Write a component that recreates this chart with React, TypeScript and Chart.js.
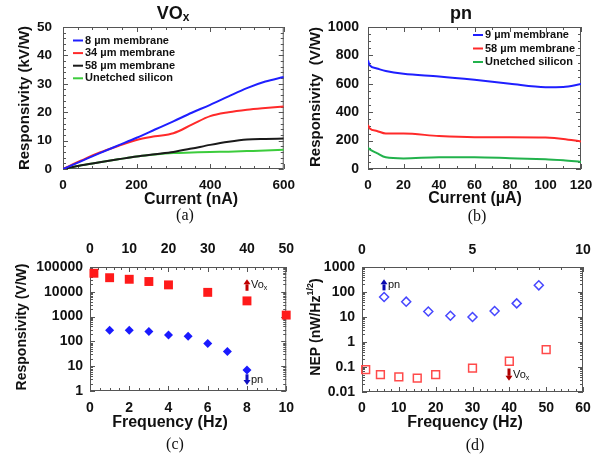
import React, { useEffect, useRef } from 'react';
import { Chart, registerables } from 'chart.js';

Chart.register(...registerables);

const SANS = '"Liberation Sans", Arial, Helvetica, sans-serif';
const SERIF = '"Liberation Serif", "Times New Roman", serif';

// ---------- (a) VOx: responsivity (kV/W) vs current (nA) ----------
const aCurrentNA = [0, 50, 100, 150, 200, 250, 300, 350, 400, 450, 500, 550, 600];
const a8um = [0, 2.8, 5.6, 8.3, 11, 13.9, 16.8, 19.8, 22.6, 25.6, 28.5, 30.8, 32.4];
const a34um = [0, 3, 5.8, 8.1, 10.2, 11.5, 12.6, 15.6, 18.6, 20, 20.9, 21.5, 22];
const a58um = [0, 1.3, 2.4, 3.4, 4.4, 5.2, 6, 7.2, 8.5, 9.6, 10.4, 10.6, 10.7];
const aUnetched = [0, 1.3, 2.4, 3.4, 4.4, 5.1, 5.6, 5.8, 6, 6.1, 6.3, 6.5, 6.8];
const aLabels = ['8 µm membrane', '34 µm membrane', '58 µm membrane', 'Unetched silicon'];

// ---------- (b) pn: responsivity (V/W) vs current (µA) ----------
const bCurrentUA = [0, 1, 5, 10, 20, 40, 60, 80, 100, 110, 120];
const b9um = [765, 730, 708, 690, 670, 652, 628, 600, 576, 578, 598];
const b58um = [310, 285, 268, 250, 250, 232, 224, 224, 221, 212, 194];
const bUnetched = [150, 138, 112, 82, 74, 83, 83, 76, 68, 62, 50];
const bLabels = ['9 µm membrane', '58 µm membrane', 'Unetched silicon'];

// ---------- (c) responsivity (V/W) vs frequency ----------
const cVoxFreqHz = [1, 5, 10, 15, 20, 30, 40, 50]; // top axis
const cVoxResp = [56000, 37000, 32000, 26000, 19000, 9500, 4300, 1150];
const cPnFreqHz = [1, 2, 3, 4, 5, 6, 7, 8]; // bottom axis
const cPnResp = [280, 280, 250, 182, 160, 83, 39, 7];
const cVoxArrow = [40, 11000, 32000]; // x (top axis), from, to
const cPnArrow = [8, 4.7, 1.75]; // x (bottom axis), from, to

// ---------- (d) NEP (nW/Hz^1/2) vs frequency ----------
const dPnFreqHz = [1, 2, 3, 4, 5, 6, 7, 8]; // top axis
const dPnNep = [63, 41, 16.5, 11.2, 10, 17.3, 35, 185];
const dVoxFreqHz = [1, 5, 10, 15, 20, 30, 40, 50]; // bottom axis
const dVoxNep = [0.079, 0.05, 0.04, 0.036, 0.05, 0.09, 0.17, 0.5];
const dPnArrow = [1, 116, 320];
const dVoxArrow = [40, 0.087, 0.028];

const BLUE = '#1f1fff';
const RED = '#ff2a2a';
const BLACK = '#1a1a1a';
const GREEN_A = '#3ccc3c';
const GREEN_B = '#22b24c';

type Run = { t: string; size: number; bold?: boolean; serif?: boolean; dy?: number };
type TextItem = { runs: Run[]; x: number; y: number; rot?: number; align?: 'left' | 'center' };
type TickSpec = { id: string; log?: boolean; minor?: number; major?: number; mirror?: boolean };
type ArrowSpec = { xId: string; v: number[]; color: string; label: Run[] };
type LegendSpec = { x: number; y: number; dy: number; len: number; gap: number; size: number };
type PanelSpec = { ticks: TickSpec[]; texts: TextItem[]; legend?: LegendSpec; arrows?: ArrowSpec[] };

const fontOf = (r: Run) => `${r.bold ? 'bold ' : ''}${r.size}px ${r.serif ? SERIF : SANS}`;

function drawRuns(ctx: CanvasRenderingContext2D, item: TextItem) {
  ctx.save();
  ctx.translate(item.x, item.y);
  if (item.rot) ctx.rotate(item.rot);
  ctx.textBaseline = 'middle';
  ctx.textAlign = 'left';
  ctx.fillStyle = '#111';
  let total = 0;
  for (const r of item.runs) {
    ctx.font = fontOf(r);
    total += ctx.measureText(r.t).width;
  }
  let cx = item.align === 'left' ? 0 : -total / 2;
  for (const r of item.runs) {
    ctx.font = fontOf(r);
    ctx.fillText(r.t, cx, r.dy || 0);
    cx += ctx.measureText(r.t).width;
  }
  ctx.restore();
}

function drawArrow(ctx: CanvasRenderingContext2D, x: number, y1: number, y2: number, color: string) {
  const dir = Math.sign(y2 - y1);
  const headLen = 5;
  const headW = 3.5;
  const shaftW = 3;
  const yb = y2 - dir * headLen;
  ctx.fillStyle = color;
  ctx.fillRect(x - shaftW / 2, Math.min(y1, yb), shaftW, Math.abs(yb - y1));
  ctx.beginPath();
  ctx.moveTo(x - headW, yb);
  ctx.lineTo(x + headW, yb);
  ctx.lineTo(x, y2);
  ctx.closePath();
  ctx.fill();
}

function tickValues(s: any, t: TickSpec): [number, boolean][] {
  const out: [number, boolean][] = [];
  const min = s.min;
  const max = s.max;
  if (t.log) {
    const e0 = Math.floor(Math.log10(min) + 1e-9);
    const e1 = Math.ceil(Math.log10(max) - 1e-9);
    for (let e = e0; e <= e1; e++) {
      for (let m = 1; m <= 9; m++) {
        const v = m * Math.pow(10, e);
        if (v >= min * (1 - 1e-9) && v <= max * (1 + 1e-9)) out.push([v, m === 1]);
      }
    }
  } else {
    const minor = t.minor as number;
    const major = t.major as number;
    for (let i = 0; ; i++) {
      const v = min + i * minor;
      if (v > max + 1e-9) break;
      const q = v / major;
      out.push([v, Math.abs(q - Math.round(q)) < 1e-6]);
    }
  }
  return out;
}

function panelPlugin(spec: PanelSpec) {
  return {
    id: 'panelDecor',
    beforeDatasetsDraw(chart: any) {
      const ctx: CanvasRenderingContext2D = chart.ctx;
      const a = chart.chartArea;
      ctx.save();
      ctx.strokeStyle = '#555';
      ctx.lineWidth = 1;
      for (const t of spec.ticks) {
        const s = chart.scales[t.id];
        for (const [v, major] of tickValues(s, t)) {
          const len = major ? 5 : 3;
          const p = Math.round(s.getPixelForValue(v)) + 0.5;
          ctx.beginPath();
          if (s.isHorizontal()) {
            if (s.position === 'bottom') {
              ctx.moveTo(p, a.bottom);
              ctx.lineTo(p, a.bottom - len);
            }
            if (s.position === 'top' || t.mirror) {
              ctx.moveTo(p, a.top);
              ctx.lineTo(p, a.top + len);
            }
          } else {
            ctx.moveTo(a.left, p);
            ctx.lineTo(a.left + len, p);
            ctx.moveTo(a.right, p);
            ctx.lineTo(a.right - len, p);
          }
          ctx.stroke();
        }
      }
      ctx.strokeRect(a.left + 0.5, a.top + 0.5, a.right - a.left - 1, a.bottom - a.top - 1);
      ctx.restore();
    },
    afterDraw(chart: any) {
      const ctx: CanvasRenderingContext2D = chart.ctx;
      ctx.save();
      for (const item of spec.texts) drawRuns(ctx, item);
      if (spec.legend) {
        const L = spec.legend;
        chart.data.datasets.forEach((ds: any, i: number) => {
          const y = L.y + i * L.dy;
          ctx.strokeStyle = ds.borderColor;
          ctx.lineWidth = 2;
          ctx.beginPath();
          ctx.moveTo(L.x, y);
          ctx.lineTo(L.x + L.len, y);
          ctx.stroke();
          drawRuns(ctx, {
            runs: [{ t: ds.label, size: L.size, bold: true }],
            x: L.x + L.len + L.gap,
            y,
            align: 'left',
          });
        });
      }
      for (const ar of spec.arrows || []) {
        const xs = chart.scales[ar.xId];
        const ys = chart.scales.y;
        const px = Math.round(xs.getPixelForValue(ar.v[0]));
        const y1 = ys.getPixelForValue(ar.v[1]);
        const y2 = ys.getPixelForValue(ar.v[2]);
        drawArrow(ctx, px, y1, y2, ar.color);
        drawRuns(ctx, { runs: ar.label, x: px + 4, y: (y1 + y2) / 2, align: 'left' });
      }
      ctx.restore();
    },
  };
}

function logLabel(v: number) {
  const l = Math.log10(v);
  const r = Math.round(l);
  if (Math.abs(l - r) > 1e-6) return '';
  return r >= 0 ? String(Math.round(Math.pow(10, r))) : Math.pow(10, r).toFixed(-r);
}

function axis(
  type: 'linear' | 'logarithmic',
  position: 'left' | 'bottom' | 'top',
  min: number,
  max: number,
  step: number,
  pad: number,
  size: number,
  fontSize: number
) {
  const horiz = position !== 'left';
  const ticks: any = {
    autoSkip: false,
    maxRotation: 0,
    minRotation: 0,
    padding: pad,
    color: '#111',
    font: { family: SANS, size: fontSize, weight: 'bold' },
    callback: (v: any) => (type === 'logarithmic' ? logLabel(Number(v)) : String(v)),
  };
  if (type === 'linear') ticks.stepSize = step;
  return {
    type,
    position,
    axis: horiz ? 'x' : 'y',
    min,
    max,
    grid: { display: false, drawTicks: false, tickLength: 0 },
    border: { display: false },
    ticks,
    afterFit: (s: any) => {
      if (horiz) s.height = size;
      else s.width = size;
    },
  };
}

function baseOptions(padding: any, scales: any) {
  return {
    responsive: false,
    maintainAspectRatio: false,
    animation: false,
    devicePixelRatio: 1,
    events: [],
    layout: { padding },
    plugins: { legend: { display: false }, tooltip: { enabled: false }, title: { display: false } },
    scales,
  };
}

const pts = (xs: number[], ys: number[]) => xs.map((x, i) => ({ x, y: ys[i] }));

function lineDs(label: string, xs: number[], ys: number[], color: string) {
  return {
    label,
    data: pts(xs, ys),
    showLine: true,
    borderColor: color,
    backgroundColor: color,
    borderWidth: 2,
    pointRadius: 0,
    cubicInterpolationMode: 'monotone',
  };
}

const rot = -Math.PI / 2;

function makeA(): any {
  return {
    type: 'scatter',
    data: {
      datasets: [
        lineDs(aLabels[0], aCurrentNA, a8um, BLUE),
        lineDs(aLabels[1], aCurrentNA, a34um, RED),
        lineDs(aLabels[2], aCurrentNA, a58um, BLACK),
        lineDs(aLabels[3], aCurrentNA, aUnetched, GREEN_A),
      ],
    },
    options: baseOptions(
      { left: 0, top: 27, right: 15, bottom: 0 },
      {
        x: axis('linear', 'bottom', 0, 600, 200, 8, 62, 13.5),
        y: axis('linear', 'left', 0, 50, 10, 11, 63, 13.5),
      }
    ),
    plugins: [
      panelPlugin({
        ticks: [
          { id: 'x', minor: 40, major: 200, mirror: true },
          { id: 'y', minor: 2, major: 10 },
        ],
        texts: [
          { runs: [{ t: 'VO', size: 18, bold: true }, { t: 'x', size: 12, bold: true, dy: 4 }], x: 173, y: 14 },
          { runs: [{ t: 'Responsivity (kV/W)', size: 15, bold: true }], x: 25, y: 98, rot },
          { runs: [{ t: 'Current (nA)', size: 16, bold: true }], x: 191, y: 200 },
          { runs: [{ t: '(a)', size: 16, serif: true }], x: 185, y: 216 },
        ],
        legend: { x: 73, y: 40.5, dy: 12.6, len: 10, gap: 2, size: 11 },
      }),
    ],
  };
}

function makeB(): any {
  return {
    type: 'scatter',
    data: {
      datasets: [
        lineDs(bLabels[0], bCurrentUA, b9um, BLUE),
        lineDs(bLabels[1], bCurrentUA, b58um, RED),
        lineDs(bLabels[2], bCurrentUA, bUnetched, GREEN_B),
      ],
    },
    options: baseOptions(
      { left: 0, top: 27, right: 25, bottom: 0 },
      {
        x: axis('linear', 'bottom', 0, 120, 20, 8, 62, 13.5),
        y: axis('linear', 'left', 0, 1000, 200, 9, 65, 14),
      }
    ),
    plugins: [
      panelPlugin({
        ticks: [
          { id: 'x', minor: 10, major: 20, mirror: true },
          { id: 'y', minor: 50, major: 200 },
        ],
        texts: [
          { runs: [{ t: 'pn', size: 18, bold: true }], x: 158, y: 14 },
          { runs: [{ t: 'Responsivity  (V/W)', size: 15, bold: true }], x: 13, y: 97, rot },
          { runs: [{ t: 'Current (µA)', size: 16, bold: true }], x: 172, y: 199 },
          { runs: [{ t: '(b)', size: 16, serif: true }], x: 174, y: 217 },
        ],
        legend: { x: 170, y: 35, dy: 13.5, len: 10, gap: 2, size: 11 },
      }),
    ],
  };
}

function makeC(): any {
  return {
    type: 'scatter',
    data: {
      datasets: [
        {
          label: 'VOx',
          xAxisID: 'x2',
          data: pts(cVoxFreqHz, cVoxResp),
          pointStyle: 'rect',
          pointRadius: 6.3,
          backgroundColor: '#ff1a1a',
          borderColor: '#ff1a1a',
          borderWidth: 0,
          clip: false,
        },
        {
          label: 'pn',
          xAxisID: 'x',
          data: pts(cPnFreqHz, cPnResp),
          pointStyle: 'rectRot',
          pointRadius: 4.5,
          backgroundColor: '#1a1aff',
          borderColor: '#1a1aff',
          borderWidth: 0,
          clip: false,
        },
      ],
    },
    options: baseOptions(
      { left: 0, top: 0, right: 12, bottom: 0 },
      {
        x: axis('linear', 'bottom', 0, 10, 2, 9, 71, 14),
        x2: axis('linear', 'top', 0, 50, 10, 9, 36, 14),
        y: axis('logarithmic', 'left', 1, 100000, 0, 7, 90, 14),
      }
    ),
    plugins: [
      panelPlugin({
        ticks: [
          { id: 'x', minor: 0.5, major: 2 },
          { id: 'x2', minor: 2, major: 10 },
          { id: 'y', log: true },
        ],
        texts: [
          { runs: [{ t: 'Responsivity (V/W)', size: 14, bold: true }], x: 22, y: 96, rot },
          { runs: [{ t: 'Frequency (Hz)', size: 16, bold: true }], x: 170, y: 192 },
          { runs: [{ t: '(c)', size: 16, serif: true }], x: 175, y: 214 },
        ],
        arrows: [
          {
            xId: 'x2',
            v: cVoxArrow,
            color: '#c00000',
            label: [{ t: 'Vo', size: 11 }, { t: 'x', size: 7, dy: 3 }],
          },
          { xId: 'x', v: cPnArrow, color: '#1010c0', label: [{ t: 'pn', size: 11 }] },
        ],
      }),
    ],
  };
}

function makeD(): any {
  return {
    type: 'scatter',
    data: {
      datasets: [
        {
          label: 'pn',
          xAxisID: 'x2',
          data: pts(dPnFreqHz, dPnNep),
          pointStyle: 'rectRot',
          pointRadius: 4.5,
          backgroundColor: 'rgba(255,255,255,0)',
          borderColor: '#4646ff',
          borderWidth: 1.5,
          clip: false,
        },
        {
          label: 'VOx',
          xAxisID: 'x',
          data: pts(dVoxFreqHz, dVoxNep),
          pointStyle: 'rect',
          pointRadius: 5.5,
          backgroundColor: 'rgba(255,255,255,0)',
          borderColor: '#ff4a4a',
          borderWidth: 1.5,
          clip: false,
        },
      ],
    },
    options: baseOptions(
      { left: 0, top: 0, right: 23, bottom: 0 },
      {
        x: axis('linear', 'bottom', 0, 60, 10, 8, 70, 14),
        x2: axis('linear', 'top', 0, 10, 5, 8, 36, 14),
        y: axis('logarithmic', 'left', 0.01, 1000, 0, 7, 59, 14),
      }
    ),
    plugins: [
      panelPlugin({
        ticks: [
          { id: 'x', minor: 2, major: 10 },
          { id: 'x2', minor: 1, major: 5 },
          { id: 'y', log: true },
        ],
        texts: [
          {
            runs: [
              { t: 'NEP (nW/Hz', size: 14, bold: true },
              { t: '1/2', size: 9, bold: true, dy: -5 },
              { t: ')', size: 14, bold: true },
            ],
            x: 13,
            y: 96,
            rot,
          },
          { runs: [{ t: 'Frequency (Hz)', size: 16, bold: true }], x: 162, y: 192 },
          { runs: [{ t: '(d)', size: 16, serif: true }], x: 172, y: 215 },
        ],
        arrows: [
          { xId: 'x2', v: dPnArrow, color: '#0a0ab0', label: [{ t: 'pn', size: 11 }] },
          {
            xId: 'x',
            v: dVoxArrow,
            color: '#b00000',
            label: [{ t: 'Vo', size: 11 }, { t: 'x', size: 7, dy: 3 }],
          },
        ],
      }),
    ],
  };
}

function Panel({ left, top, w, h, make }: { left: number; top: number; w: number; h: number; make: () => any }) {
  const ref = useRef<HTMLCanvasElement>(null);
  useEffect(() => {
    const chart = new Chart(ref.current as HTMLCanvasElement, make());
    return () => chart.destroy();
  }, []);
  return (
    <canvas
      ref={ref}
      width={w}
      height={h}
      style={{ position: 'absolute', left, top, width: w, height: h, display: 'block' }}
    />
  );
}

export default function App() {
  return (
    <div style={{ position: 'absolute', left: 0, top: 0, width: 606, height: 462, background: '#fff', overflow: 'hidden' }}>
      <Panel left={0} top={0} w={303} h={231} make={makeA} />
      <Panel left={303} top={0} w={303} h={231} make={makeB} />
      <Panel left={0} top={231} w={303} h={231} make={makeC} />
      <Panel left={303} top={231} w={303} h={231} make={makeD} />
    </div>
  );
}
